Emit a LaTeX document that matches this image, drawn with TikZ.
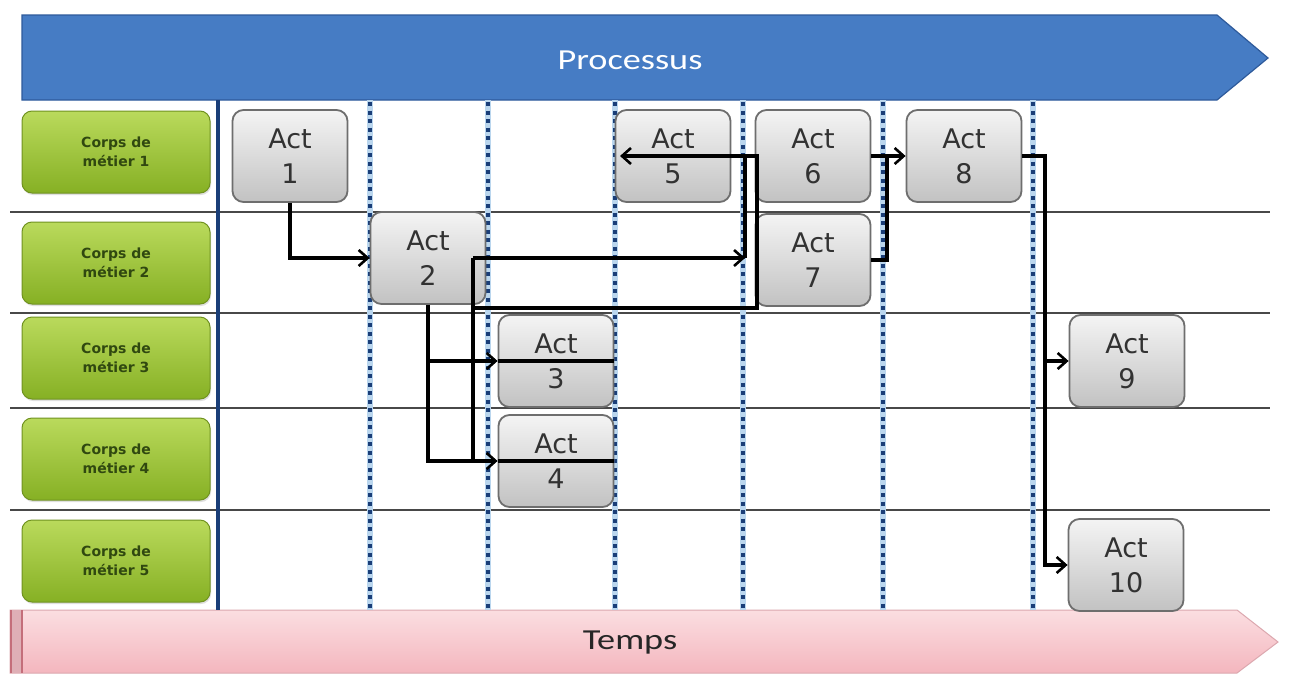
\documentclass[tikz,border=0pt]{standalone}
\usepackage{fontspec}
\setmainfont{DejaVu Sans}
\newfontfamily\bannerfont{Carlito}
\usetikzlibrary{arrows.meta,shadows}

\definecolor{procblue}{RGB}{70,124,196}
\definecolor{procedge}{RGB}{46,90,155}
\definecolor{pinklight}{RGB}{251,222,225}
\definecolor{pinkdark}{RGB}{244,182,190}
\definecolor{pinkedge}{RGB}{196,110,122}
\definecolor{greentop}{RGB}{186,218,92}
\definecolor{greenbot}{RGB}{134,176,36}
\definecolor{greenedge}{RGB}{112,146,32}
\definecolor{greentext}{RGB}{48,72,16}
\definecolor{acttop}{RGB}{244,244,244}
\definecolor{actbot}{RGB}{194,194,194}
\definecolor{actedge}{RGB}{110,110,110}
\definecolor{acttext}{RGB}{50,50,50}
\definecolor{navy}{RGB}{26,62,120}
\definecolor{dotblue}{RGB}{186,214,238}
\definecolor{sepgray}{RGB}{72,72,72}

\tikzset{
  actbox/.style={rounded corners=11pt, draw=actedge, line width=1.8pt,
    top color=acttop, bottom color=actbot,
    minimum width=115pt, minimum height=92pt, inner sep=0pt,
    align=center, text=acttext, font=\fontsize{27}{35}\selectfont},
  tradebox/.style={rounded corners=10pt, draw=greenedge, line width=1pt,
    top color=greentop, bottom color=greenbot,
    minimum width=188pt, minimum height=82pt, inner sep=0pt,
    align=center, text=greentext, font=\bfseries\fontsize{14}{19}\selectfont,
    drop shadow={opacity=0.25, shadow xshift=1pt, shadow yshift=-2pt}},
  flow/.style={draw=black, line width=3.2pt,
    -{Straight Barb[length=9pt,width=16pt,line width=2.6pt]}},
  link/.style={draw=black, line width=3.2pt},
  sep/.style={draw=sepgray, line width=2.4pt},
  timeline/.style={draw=dotblue, line width=6pt},
  timedots/.style={draw=navy, line width=4.5pt, dash pattern=on 4pt off 4.5pt},
  bannertext/.style={font=\bannerfont\fontsize{29}{34}\selectfont, xscale=1.25}
}

\begin{document}
\begin{tikzpicture}[x=1pt, y=-1pt]
\useasboundingbox (0,0) rectangle (1290,675);
\fill[white] (0,0) rectangle (1290,675);

% process banner
\path[fill=procblue, draw=procedge, line width=1.2pt]
  (22,15) -- (1217,15) -- (1268,58) -- (1217,100) -- (22,100) -- cycle;
\node[bannertext, text=white] (proc) at (630,60) {Processus};

% time banner
\path[top color=pinklight, bottom color=pinkdark, draw=pinkedge!60, line width=1pt]
  (10,610) -- (1237,610) -- (1278,642) -- (1237,673) -- (10,673) -- cycle;
\fill[pinkedge!55] (10,610) rectangle (23,673);
\draw[pinkedge, line width=1.5pt] (11,610) -- (11,673) (22,610) -- (22,673);
\node[bannertext, text=black!85] (time) at (630,643) {Temps};

% lane separators
\foreach \y in {212,313,408,510}
  \draw[sep] (10,\y) -- (1270,\y);

% time steps
\foreach \x in {370,488,615,743,883,1033} {
  \draw[timeline] (\x,100) -- (\x,610);
  \draw[timedots] (\x,102) -- (\x,610);
}

% lane axis
\draw[navy, line width=3.5pt] (218,100) -- (218,610);

% trades
\node[tradebox] (t1) at (116,152) {Corps de\\métier 1};
\node[tradebox] (t2) at (116,263) {Corps de\\métier 2};
\node[tradebox] (t3) at (116,358) {Corps de\\métier 3};
\node[tradebox] (t4) at (116,459) {Corps de\\métier 4};
\node[tradebox] (t5) at (116,561) {Corps de\\métier 5};

% activities
\node[actbox] (a1) at (290,156) {Act\\1};
\node[actbox] (a2) at (428,258) {Act\\2};
\node[actbox] (a3) at (556,361) {Act\\3};
\node[actbox] (a4) at (556,461) {Act\\4};
\node[actbox] (a5) at (673,156) {Act\\5};
\node[actbox] (a6) at (813,156) {Act\\6};
\node[actbox] (a7) at (813,260) {Act\\7};
\node[actbox] (a8) at (964,156) {Act\\8};
\node[actbox] (a9) at (1127,361) {Act\\9};
\node[actbox] (a10) at (1126,565) {Act\\10};

% junction points
\coordinate (j4) at (473,461);
\coordinate (j2) at (473,258);
\coordinate (j7) at (745,258);
\coordinate (j5top) at (745,156);
\coordinate (j3) at (473,308);
\coordinate (j6) at (757,156);
\coordinate (j5in) at (620,156);
\coordinate (j8) at (887,156);
\coordinate (k) at (1045,156);

% links
\draw[flow] (a1.south) |- (a2.west);
\draw[flow] (a2.south) |- (a3.west);
\draw[flow] (a2.south) |- (a4.west);
\draw[link] (a3.west) -- (a3.east);
\draw[link] (a4.west) -- (a4.east);
\draw[link] (j4) -- (j2);
\draw[flow] (j2) -- (j7);
\draw[link] (j5top) -- (j7);
\draw[flow] (j3) -| (j6) -- (j5in);
\draw[flow] (a6.east) -- (a8.west);
\draw[link] (a7.east) -| (j8);
\draw[flow] (a8.east) -- (k) |- (a10.west);
\draw[flow] (k) |- (a9.west);
\end{tikzpicture}
\end{document}
